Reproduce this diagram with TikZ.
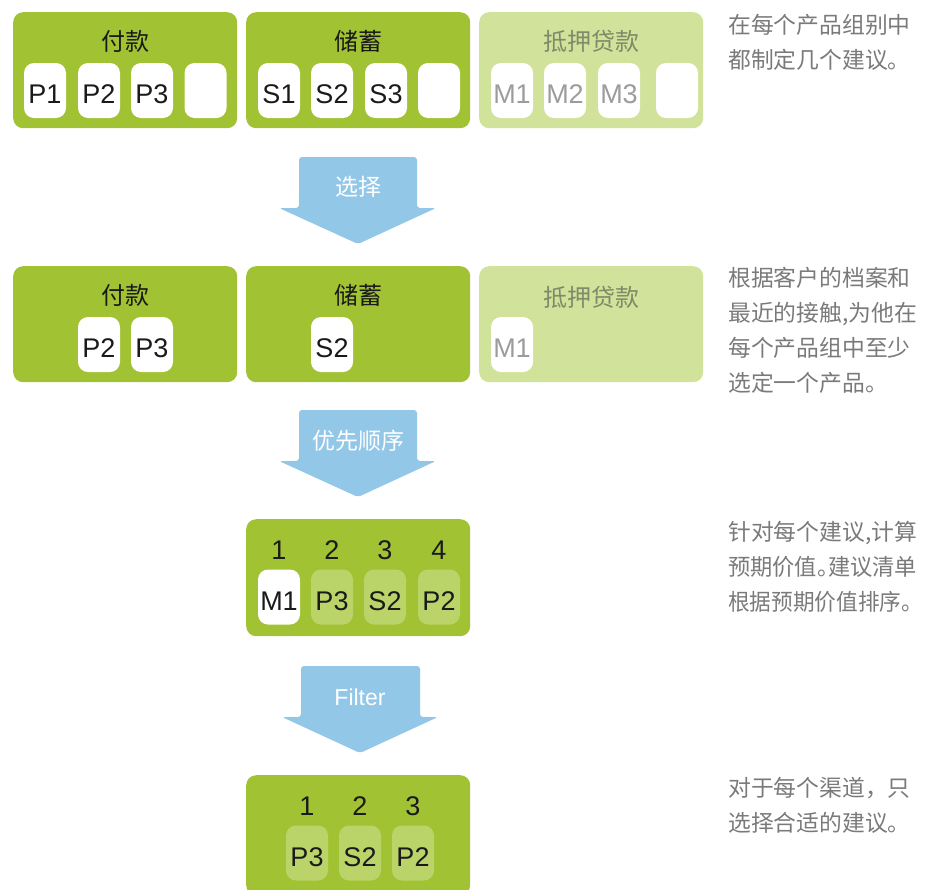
\documentclass[tikz,border=0pt]{standalone}
\usepackage{fontspec}
\setmainfont{Liberation Sans}
\newfontfamily\cjk{Noto Sans CJK SC}
\definecolor{gmain}{HTML}{A1C232}
\definecolor{glight}{HTML}{D1E29A}
\definecolor{gfade}{HTML}{BAD46A}
\definecolor{ablue}{HTML}{93C7E8}
\definecolor{txtgray}{HTML}{7A7A7A}
\definecolor{dimtitle}{HTML}{7E8A68}
\definecolor{dimtext}{HTML}{9C9C9C}
\definecolor{dark}{HTML}{1A1A1A}
\tikzset{
  grp/.style={fill=gmain, rounded corners=10pt, draw=none, minimum width=224pt, minimum height=116pt, anchor=north west, inner sep=0pt},
  grpdim/.style={grp, fill=glight},
  ttl/.style={font=\fontsize{24}{26}\cjk, text=dark, inner sep=0pt},
  ttldim/.style={ttl, text=dimtitle},
  itm/.style={fill=white, rounded corners=10pt, minimum width=42pt, minimum height=55pt, inner sep=0pt, font=\fontsize{27}{30}\selectfont, text=dark, text height=26pt, text depth=0pt},
  itmdim/.style={itm, text=dimtext},
  itmfade/.style={itm, fill=gfade},
  num/.style={font=\fontsize{27}{30}\selectfont, text=dark, inner sep=0pt},
  arr/.style={fill=ablue, rounded corners=3pt},
  arrtxt/.style={font=\fontsize{23}{26}\cjk, text=white, inner sep=0pt},
  note/.style={font=\fontsize{22.8}{35}\cjk, text=txtgray, align=left, anchor=north west, inner sep=0pt}
}
\begin{document}
\begin{tikzpicture}[x=1pt,y=-1pt]
\useasboundingbox (0,0) rectangle (925,889);
% row 1
\node[grp] (g1) at (13,12) {};
\node[grp] (g2) at (246,12) {};
\node[grpdim] (g3) at (479,12) {};
\node[ttl] (t1) at (125,41) {付款};
\node[ttl] (t2) at (358,41) {储蓄};
\node[ttldim] (t3) at (591,41) {抵押贷款};
\node[itm] (p1) at (45,90.5) {P1};
\node[itm] (p2) at (99,90.5) {P2};
\node[itm] (p3) at (152,90.5) {P3};
\node[itm] (p4) at (205.5,90.5) {};
\node[itm] (s1) at (279,90.5) {S1};
\node[itm] (s2) at (332,90.5) {S2};
\node[itm] (s3) at (386,90.5) {S3};
\node[itm] (s4) at (439,90.5) {};
\node[itmdim] (m1) at (512,90.5) {M1};
\node[itmdim] (m2) at (565,90.5) {M2};
\node[itmdim] (m3) at (619,90.5) {M3};
\node[itmdim] (m4) at (677,90.5) {};
% arrow 1
\fill[arr] (299,157) -- (417,157) -- (417,208) -- (436,208) -- (358,244) -- (279,208) -- (299,208) -- cycle;
\node[arrtxt] (a1) at (358,187) {选择};
% row 2
\node[grp] (h1) at (13,266) {};
\node[grp] (h2) at (246,266) {};
\node[grpdim] (h3) at (479,266) {};
\node[ttl] (u1) at (125,295) {付款};
\node[ttl] (u2) at (358,295) {储蓄};
\node[ttldim] (u3) at (591,297) {抵押贷款};
\node[itm] (q2) at (99,344.5) {P2};
\node[itm] (q3) at (152,344.5) {P3};
\node[itm] (r2) at (332,344.5) {S2};
\node[itmdim] (n1) at (512,344.5) {M1};
% arrow 2
\fill[arr] (299,410) -- (417,410) -- (417,461) -- (436,461) -- (358,497) -- (279,461) -- (299,461) -- cycle;
\node[arrtxt] (a2) at (358,441) {优先顺序};
% row 3
\node[grp, minimum height=117pt] (k1) at (246,519) {};
\node[num] (k1n) at (279,550) {1};
\node[num] (k2n) at (332,550) {2};
\node[num] (k3n) at (385,550) {3};
\node[num] (k4n) at (439,550) {4};
\node[itm] (km1) at (279,597) {M1};
\node[itmfade] (kp3) at (332,597) {P3};
\node[itmfade] (ks2) at (385,597) {S2};
\node[itmfade] (kp2) at (439,597) {P2};
% arrow 3
\fill[arr] (301,666) -- (420,666) -- (420,717) -- (438,717) -- (360,753) -- (282,717) -- (301,717) -- cycle;
\node[arrtxt, font=\fontsize{23}{26}\selectfont] (a3) at (360,697) {Filter};
% row 4
\node[grp, minimum height=120pt] (f1) at (246,775) {};
\node[num] (f1n) at (307,806) {1};
\node[num] (f2n) at (360,806) {2};
\node[num] (f3n) at (413,806) {3};
\node[itmfade] (fp3) at (307,853) {P3};
\node[itmfade] (fs2) at (360,853) {S2};
\node[itmfade] (fp2) at (413,853) {P2};
% notes
\node[note] (n1t) at (728,14) {在每个产品组别中\\都制定几个建议。};
\node[note] (n2t) at (728,267) {根据客户的档案和\\最近的接触,为他在\\每个产品组中至少\\选定一个产品。};
\node[note] (n3t) at (728,521) {针对每个建议,计算\\\scalebox{0.975}[1]{预期价值。\hspace{-0.5em}建议清单}\\\scalebox{0.95}[1]{根据预期价值排序。}};
\node[note] (n4t) at (728,777) {对于每个渠道，只\\选择合适的建议。};
\end{tikzpicture}
\end{document}
